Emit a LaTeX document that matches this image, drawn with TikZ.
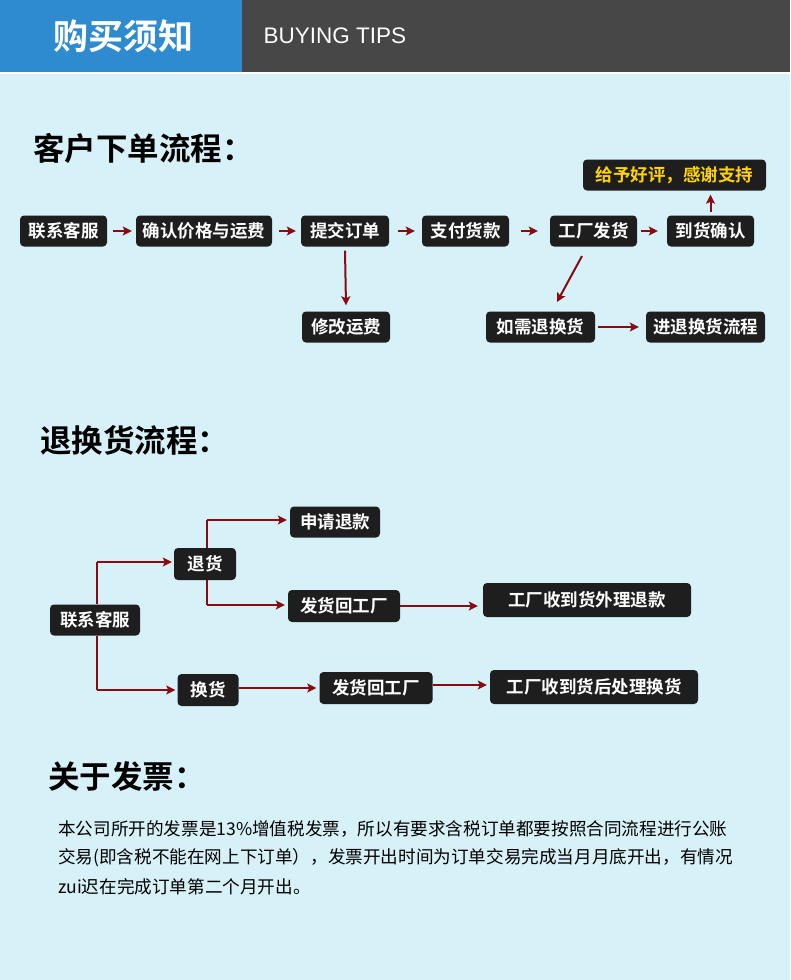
\documentclass[tikz,border=0pt]{standalone}
\usepackage{fontspec}
\setmainfont{Noto Sans CJK SC}
\newfontfamily\cjkb{Noto Sans CJK SC Bold}
\newfontfamily\latinh{Liberation Sans}
\usetikzlibrary{arrows.meta}
\definecolor{bg}{HTML}{D7F1F8}
\definecolor{hblue}{HTML}{2E8BD0}
\definecolor{hgray}{HTML}{474747}
\definecolor{boxc}{HTML}{1E1E1E}
\definecolor{arr}{HTML}{8A0A12}
\definecolor{yel}{HTML}{FFD400}
\tikzset{
 bx/.style={fill=boxc,rounded corners=4pt,text=white,font=\cjkb\fontsize{17.5}{17.5}\selectfont,minimum height=31,inner sep=0pt,anchor=center},
 ar/.style={draw=arr,line width=2pt,-{Stealth[length=9pt,width=9pt,inset=2pt]}},
 ln/.style={draw=arr,line width=2pt},
 ttl/.style={anchor=west,font=\cjkb\fontsize{31.5}{31.5}\selectfont,inner sep=0pt},
 para/.style={anchor=west,inner sep=0pt,font=\fontsize{17.6}{17.6}\selectfont}
}
\begin{document}
\begin{tikzpicture}[x=1pt,y=-1pt]
\useasboundingbox (0,0) rectangle (790,980);
\fill[bg] (0,0) rectangle (790,980);
\fill[hgray] (0,0) rectangle (790,72);
\fill[hblue] (0,0) rectangle (242,72);
\draw[white,line width=1.5pt] (0,73) -- (790,73);
\node[text=white,font=\cjkb\fontsize{35}{35}\selectfont] (h1) at (123,36) {购买须知};
\node[anchor=west,text=white,font=\latinh\fontsize{22.5}{22.5}\selectfont] (h2) at (260,36) {BUYING TIPS};
\node[ttl] (t1) at (33,148) {客户下单流程：};
\node[ttl] (t2) at (40,440) {退换货流程：};
\node[ttl] (t3) at (48,776) {关于发票：};
% row 1
\node[bx,minimum width=87] (a1) at (63.5,231) {联系客服};
\node[bx,minimum width=136] (a2) at (204,231) {确认价格与运费};
\node[bx,minimum width=88] (a3) at (345,231) {提交订单};
\node[bx,minimum width=87] (a4) at (465.5,231) {支付货款};
\node[bx,minimum width=87] (a5) at (593.5,231) {工厂发货};
\node[bx,minimum width=87] (a6) at (710.5,231) {到货确认};
\node[bx,minimum width=183,text=yel] (a7) at (674.5,175) {给予好评，感谢支持};
\node[bx,minimum width=88] (b1) at (346,327) {修改运费};
\node[bx,minimum width=109] (b2) at (540.5,327) {如需退换货};
\node[bx,minimum width=119] (b3) at (705.5,327) {进退换货流程};
\draw[ar] ([xshift=6]a1.east) -- ([xshift=-4]a2.west);
\draw[ar] ([xshift=7]a2.east) -- ([xshift=-5]a3.west);
\draw[ar] ([xshift=9]a3.east) -- ([xshift=-7]a4.west);
\draw[ar] ([xshift=12]a4.east) -- ([xshift=-12]a5.west);
\draw[ar] ([xshift=4]a5.east) -- ([xshift=-9]a6.west);
\draw[ar] ([yshift=3]a6.north) -- ([yshift=-4]a6.north |- a7.south);
\draw[ar] ([yshift=-4]a3.south) -- ([yshift=6]b1.north);
\coordinate (d1) at (582,256);
\coordinate (d2) at (557,302);
\draw[ar] (d1) -- (d2);
\draw[ar] ([xshift=3]b2.east) -- ([xshift=-7]b3.west);
% returns
\node[bx,minimum width=90,minimum height=31] (c1) at (95,620) {联系客服};
\node[bx,minimum width=62,minimum height=32] (c2) at (205,564) {退货};
\node[bx,minimum width=90] (c3) at (335,522) {申请退款};
\node[bx,minimum width=112,minimum height=32] (c4) at (344,606) {发货回工厂};
\node[bx,minimum width=208,minimum height=34] (c5) at (587,600) {工厂收到货外理退款};
\node[bx,minimum width=61,minimum height=32] (c6) at (208,690) {换货};
\node[bx,minimum width=113,minimum height=32] (c7) at (376,688) {发货回工厂};
\node[bx,minimum width=208,minimum height=34] (c8) at (594,687) {工厂收到货后处理换货};
\coordinate (j1) at (97,562);
\coordinate (j2) at (97,690);
\coordinate (k1) at (207,520);
\coordinate (k2) at (207,605);
\draw[ln] (j1) -- (c1.north -| j1);
\draw[ln] (c1.south -| j2) -- (j2);
\draw[ar] (j1) -- ([xshift=-2]c2.west |- j1);
\draw[ar] (j2) -- ([xshift=-2]c6.west |- j2);
\draw[ln] (c2.south -| k1) -- (k2);
\draw[ln] (c2.north -| k1) -- (k1);
\draw[ar] (k1) -- ([xshift=-3]c3.west |- k1);
\draw[ar] (k2) -- ([xshift=-3]c4.west |- k2);
\draw[ar] (c4.east) -- ([xshift=-5]c5.west |- c4.east);
\draw[ar] (c6.east |- 0,688) -- ([xshift=-3]c7.west);
\draw[ar] (c7.east |- 0,685) -- ([xshift=-3]c8.west |- 0,685);
% text
\node[para] (p1) at (58,829) {本公司所开的发票是13\%增值税发票，所以有要求含税订单都要按照合同流程进行公账};
\node[para] (p2) at (58,858) {交易(即含税不能在网上下订单），发票开出时间为订单交易完成当月月底开出，有情况};
\node[para] (p3) at (58,887) {zui迟在完成订单第二个月开出。};
\end{tikzpicture}
\end{document}
